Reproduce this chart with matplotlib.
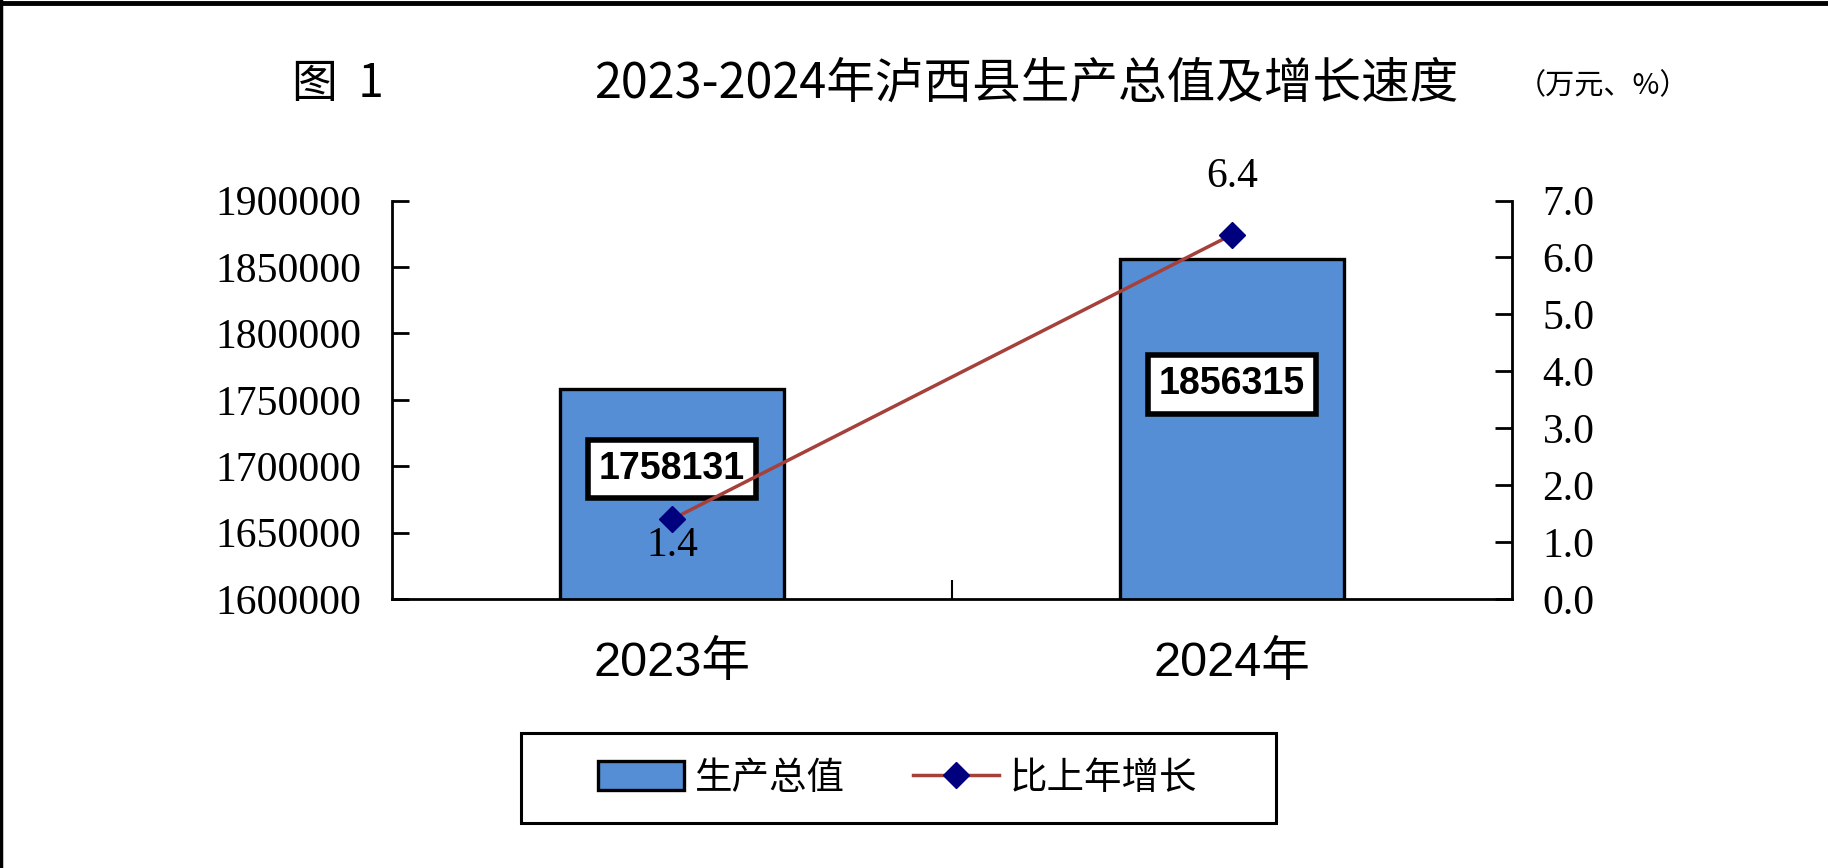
import matplotlib.pyplot as plt
from matplotlib.lines import Line2D
from matplotlib.patches import Rectangle

years = ["2023年", "2024年"]
gdp = [1758131, 1856315]
growth = [1.4, 6.4]
gdp_ticks = [1600000, 1650000, 1700000, 1750000, 1800000, 1850000, 1900000]
growth_ticks = [0, 1, 2, 3, 4, 5, 6, 7]

CJK = ["Noto Sans CJK SC", "DejaVu Sans"]
SERIF = ["Liberation Serif", "DejaVu Serif"]
NARROW = ["Liberation Sans Narrow", "Liberation Sans", "DejaVu Sans"]
SANS = ["Liberation Sans", "Noto Sans CJK SC"]

bar_color = "#558ED5"
line_color = "#A5403B"
marker_color = "#00007F"

fig = plt.figure(figsize=(18.28, 8.68), dpi=100)
ax = fig.add_axes([0.2144, 0.3099, 0.8271 - 0.2144, 0.769 - 0.3099])
ax2 = ax.twinx()

x = list(range(len(years)))
ax.bar(x, gdp, width=0.4, color=bar_color, edgecolor="black",
       linewidth=2.4, zorder=2, label="生产总值")
ax.set_xlim(-0.5, 1.5)
ax.set_ylim(1600000, 1900000)
ax.set_yticks(gdp_ticks)
ax.set_yticklabels([str(v) for v in gdp_ticks], fontfamily=SERIF, fontsize=30)
ax.tick_params(axis="y", direction="in", length=12, width=2, pad=22)

# category separator tick and labels
ax.set_xticks([0.5])
ax.set_xticklabels([""])
ax.tick_params(axis="x", direction="in", length=14, width=1.5)
ax.set_xticks(x, minor=True)
ax.set_xticklabels(years, minor=True, fontfamily=SANS, fontsize=35)
ax.tick_params(axis="x", which="minor", length=0, pad=30)

ax.spines["top"].set_visible(False)
ax2.spines["top"].set_visible(False)
for s in ["left", "bottom"]:
    ax.spines[s].set_linewidth(2)
ax2.spines["right"].set_linewidth(2)
ax2.spines["left"].set_visible(False)
ax2.spines["bottom"].set_visible(False)

ax2.plot(x, growth, color=line_color, linewidth=2.5, marker="D",
         markersize=13, markerfacecolor=marker_color,
         markeredgecolor=marker_color, zorder=3, label="比上年增长")
ax2.set_ylim(0, 7)
ax2.set_yticks(growth_ticks)
ax2.set_yticklabels([f"{v:.1f}" for v in growth_ticks], fontfamily=SERIF, fontsize=30)
ax2.tick_params(axis="y", direction="in", length=12, width=2, pad=22)

# value boxes on bars
label_y = [1698000, 1761500]
for xi, v, ly in zip(x, gdp, label_y):
    ax.text(xi, ly, str(v), ha="center", va="center", fontsize=27,
            fontweight="bold", fontfamily=NARROW, zorder=5,
            bbox=dict(boxstyle="square,pad=0.3", facecolor="white",
                      edgecolor="black", linewidth=4))

# growth labels
ax2.text(x[0], growth[0] - 0.47, f"{growth[0]}", ha="center", va="center",
         fontsize=30, fontfamily=SERIF, zorder=6)
ax2.text(x[1], growth[1] + 1.02, f"{growth[1]}", ha="center", va="center",
         fontsize=30, fontfamily=SERIF, zorder=6, clip_on=False)

# titles
fig.text(338 / 1828, 1 - 84 / 868, "图  1", ha="center", va="center",
         fontsize=33, fontfamily=CJK)
fig.text(1026 / 1828, 1 - 84 / 868, "2023-2024年泸西县生产总值及增长速度",
         ha="center", va="center", fontsize=35, fontfamily=CJK)
fig.text(1603 / 1828, 1 - 86 / 868, "（万元、%）", ha="center", va="center",
         fontsize=21, fontfamily=CJK)

# legend with a hand-drawn frame
h1, l1 = ax.get_legend_handles_labels()
h2, l2 = ax2.get_legend_handles_labels()
fig.legend(h1 + h2, l1 + l2, loc="center",
           bbox_to_anchor=(0.491, 1 - 778 / 868), ncol=2, frameon=False,
           prop={"family": CJK, "size": 27}, handlelength=2.3,
           handleheight=0.8, handletextpad=0.3, columnspacing=1.8)
fig.add_artist(Rectangle((521 / 1828, 1 - 823 / 868), (1276 - 521) / 1828,
                         90 / 868, transform=fig.transFigure, fill=False,
                         edgecolor="black", linewidth=2.2))

# outer border (top and left)
fig.add_artist(Line2D([0, 1], [0.997, 0.997], transform=fig.transFigure,
                      color="black", linewidth=3.5))
fig.add_artist(Line2D([0.0008, 0.0008], [0, 1], transform=fig.transFigure,
                      color="black", linewidth=2.5))

fig.savefig("out.png", dpi=100, facecolor="white")
